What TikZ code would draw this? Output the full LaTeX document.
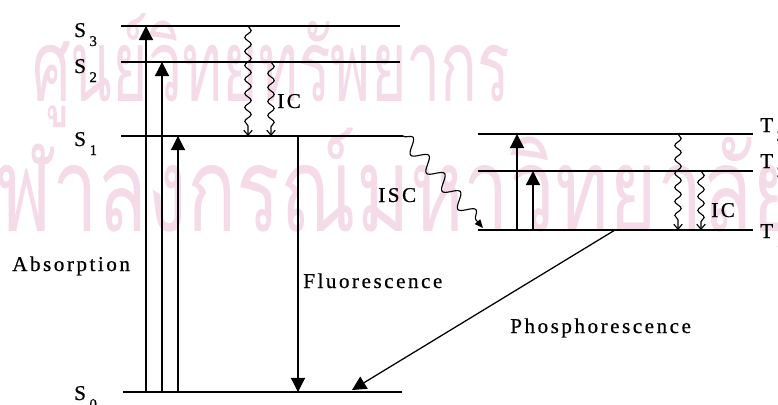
\documentclass[tikz,border=0pt]{standalone}
\usepackage{fontspec}
\setmainfont{Liberation Serif}[LetterSpace=12,FakeBold=0.6]
\newfontfamily\thaifont[Script=Thai]{Loma}
\usetikzlibrary{positioning,arrows.meta,decorations.pathmorphing}
\definecolor{wmark}{RGB}{244,219,231}
\newcommand{\st}[2]{#1\kern2.5pt\raisebox{-6.4pt}{\fontsize{10.5}{10.5}\selectfont #2}}

\begin{document}
\begin{tikzpicture}[x=0.025cm, y=-0.025cm,
  every node/.style={inner sep=0pt, font=\fontsize{15}{18}\selectfont},
  lvl/.style={line width=1.1pt},
  rad/.style={line width=0.9pt, -{Triangle[length=10pt,width=10pt]}},
  ic/.style={line width=0.8pt, -{Straight Barb[length=3.5pt,width=6pt]},
    decorate, decoration={snake, amplitude=0.8mm, segment length=3.5mm, post length=4pt}},
  isc/.style={line width=0.8pt, -{Triangle[length=6pt,width=5pt]},
    decorate, decoration={snake, amplitude=1.7mm, segment length=6mm, post length=5pt}}]
  \useasboundingbox (0,0) rectangle (778,404);
  % watermark
  \node[anchor=north west, text=wmark] (wm1) at (32,13) {\resizebox*{11.95cm}{2.85cm}{\thaifont ศูนย์วิทยทรัพยากร}};
  \node[anchor=north west, text=wmark] (wm2) at (-4,128) {\resizebox*{20.1cm}{2.6cm}{\thaifont ฬาลงกรณ์มหาวิทยาลัย}};
  % singlet levels
  \coordinate (s3l) at (121,26);  \coordinate (s3r) at (400,26);
  \coordinate (s2l) at (121,62);  \coordinate (s2r) at (400,62);
  \coordinate (s1l) at (121,136); \coordinate (s1r) at (403,136);
  \coordinate (s0l) at (123,392); \coordinate (s0r) at (402,392);
  \draw[lvl] (s3l) -- (s3r);
  \draw[lvl] (s2l) -- (s2r);
  \draw[lvl] (s1l) -- (s1r);
  \draw[lvl] (s0l) -- (s0r);
  \node[anchor=base west] (s3) at (74,37) {\st{S}{3}};
  \node[anchor=base west] (s2) at (74,73) {\st{S}{2}};
  \node[anchor=base west] (s1) at (74,146) {\st{S}{1}};
  \node[anchor=base west] (s0) at (74,400) {\st{S}{0}};
  % triplet levels
  \coordinate (t3l) at (478,134); \coordinate (t3r) at (753,134);
  \coordinate (t2l) at (478,171); \coordinate (t2r) at (753,171);
  \coordinate (t1l) at (478,230); \coordinate (t1r) at (753,230);
  \draw[lvl] (t3l) -- (t3r);
  \draw[lvl] (t2l) -- (t2r);
  \draw[lvl] (t1l) -- (t1r);
  \node[anchor=base west] (t3) at (760,132) {\st{T}{3}};
  \node[anchor=base west] (t2) at (760,168) {\st{T}{2}};
  \node[anchor=base west] (t1) at (760,238) {\st{T}{1}};
  % absorption
  \coordinate (xa3) at (146,0);
  \coordinate (xa2) at (162,0);
  \coordinate (xa1) at (178,0);
  \draw[rad] (xa3 |- s0l) -- (xa3 |- s3l);
  \draw[rad] (xa2 |- s0l) -- (xa2 |- s2l);
  \draw[rad] (xa1 |- s0l) -- (xa1 |- s1l);
  \node[anchor=base west] (abs) at (12,271) {Absorption};
  % internal conversion, singlets
  \coordinate (xi3) at (248,0);
  \coordinate (xi2) at (271,0);
  \draw[ic] (xi3 |- s3l) -- (xi3 |- s1l);
  \draw[ic] (xi2 |- s2l) -- (xi2 |- s1l);
  \node[anchor=base west] (ics) at (277,108) {IC};
  % fluorescence
  \coordinate (xf) at (298,0);
  \draw[rad] (xf |- s1l) -- (xf |- s0l);
  \node[anchor=base west] (flu) at (303,288) {Fluorescence};
  % intersystem crossing
  \coordinate (iscend) at (483,228);
  \draw[isc] (s1r) -- (iscend);
  \node[anchor=base west] (iscl) at (378,202) {ISC};
  % triplet absorption
  \coordinate (xb3) at (517,0);
  \coordinate (xb2) at (533,0);
  \draw[rad] (xb3 |- t1l) -- (xb3 |- t3l);
  \draw[rad] (xb2 |- t1l) -- (xb2 |- t2l);
  % internal conversion, triplets
  \coordinate (xj3) at (678,0);
  \coordinate (xj2) at (701,0);
  \draw[ic] (xj3 |- t3l) -- (xj3 |- t1l);
  \draw[ic] (xj2 |- t2l) -- (xj2 |- t1l);
  \node[anchor=base west] (ict) at (711,217) {IC};
  % phosphorescence
  \coordinate (xp) at (615,0);
  \coordinate (phend) at (352,390);
  \draw[rad] (xp |- t1l) -- (phend);
  \node[anchor=base west] (pho) at (510,333) {Phosphorescence};
\end{tikzpicture}
\end{document}
